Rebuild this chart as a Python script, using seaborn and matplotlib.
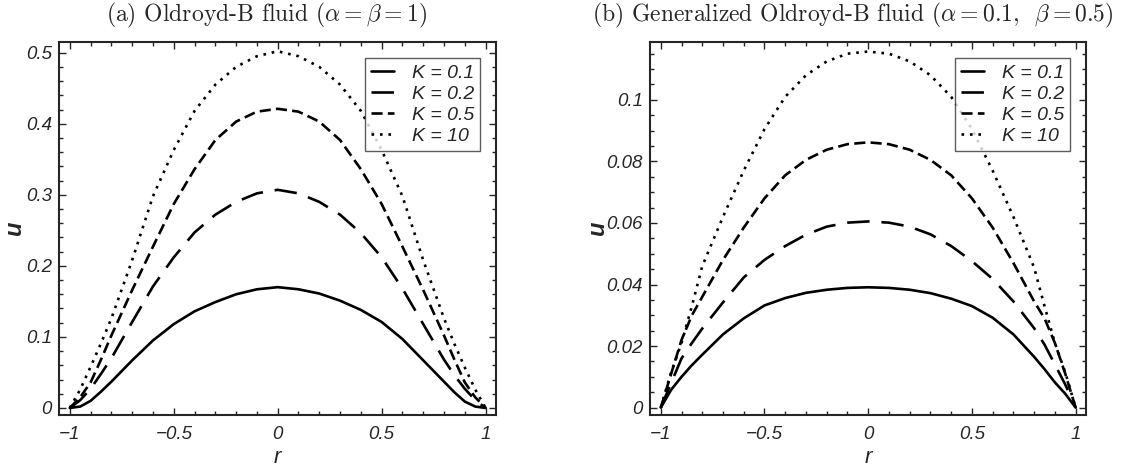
import numpy as np
import pandas as pd
import matplotlib
matplotlib.use('Agg')
import matplotlib.pyplot as plt
import seaborn as sns
from matplotlib.ticker import MultipleLocator, FixedLocator

# datos
r = [-1.0, -0.95, -0.9, -0.85, -0.8, -0.7, -0.6, -0.5, -0.4, -0.3, -0.2, -0.1, 0.0,
     0.1, 0.2, 0.3, 0.4, 0.5, 0.6, 0.7, 0.8, 0.85, 0.9, 0.95, 1.0]

k_labels = ['K = 0.1', 'K = 0.2', 'K = 0.5', 'K = 10']

# (a) Oldroyd-B
u_a_k01 = [0, 0.002, 0.010, 0.023, 0.037, 0.067, 0.095, 0.118, 0.136, 0.149, 0.160, 0.167, 0.170,
           0.167, 0.161, 0.151, 0.138, 0.121, 0.097, 0.067, 0.037, 0.022, 0.009, 0.002, 0]
u_a_k02 = [0, 0.011, 0.027, 0.048, 0.070, 0.121, 0.171, 0.212, 0.247, 0.272, 0.290, 0.302, 0.307,
           0.302, 0.290, 0.272, 0.246, 0.212, 0.168, 0.118, 0.068, 0.046, 0.027, 0.011, 0]
u_a_k05 = [0, 0.015, 0.036, 0.068, 0.102, 0.166, 0.227, 0.287, 0.336, 0.377, 0.403, 0.417, 0.421,
           0.417, 0.403, 0.377, 0.336, 0.287, 0.227, 0.166, 0.102, 0.068, 0.036, 0.015, 0]
u_a_k10 = [0, 0.026, 0.058, 0.091, 0.126, 0.208, 0.298, 0.363, 0.418, 0.455, 0.480, 0.495, 0.502,
           0.495, 0.480, 0.455, 0.418, 0.363, 0.298, 0.208, 0.126, 0.090, 0.057, 0.026, 0]

# (b) Generalized Oldroyd-B
u_b_k01 = [0, 0.0058, 0.0100, 0.0138, 0.0172, 0.0238, 0.0290, 0.0332, 0.0356, 0.0373, 0.0383, 0.0389, 0.0391,
           0.0389, 0.0383, 0.0372, 0.0354, 0.0330, 0.0292, 0.0238, 0.0165, 0.0125, 0.0082, 0.0045, 0]
u_b_k02 = [0, 0.0080, 0.0160, 0.0210, 0.0257, 0.0342, 0.0423, 0.0480, 0.0525, 0.0562, 0.0588, 0.0601, 0.0605,
           0.0601, 0.0588, 0.0563, 0.0525, 0.0476, 0.0418, 0.0345, 0.0258, 0.0205, 0.0140, 0.0075, 0]
u_b_k05 = [0, 0.011, 0.022, 0.030, 0.036, 0.048, 0.0585, 0.068, 0.0755, 0.0805, 0.0838, 0.0856, 0.0862,
           0.0856, 0.0838, 0.0805, 0.0755, 0.068, 0.0585, 0.047, 0.0345, 0.029, 0.021, 0.011, 0]
u_b_k10 = [0, 0.0115, 0.021, 0.033, 0.046, 0.062, 0.077, 0.0905, 0.101, 0.108, 0.1125, 0.115, 0.1157,
           0.115, 0.1125, 0.108, 0.101, 0.0905, 0.077, 0.062, 0.0455, 0.033, 0.021, 0.0115, 0]

x_ticks = [-1, -0.5, 0, 0.5, 1]
x_ticklabels = ['\u22121', '\u22120.5', '0', '0.5', '1']
ya_ticks = [0, 0.1, 0.2, 0.3, 0.4, 0.5]
ya_ticklabels = ['0', '0.1', '0.2', '0.3', '0.4', '0.5']
yb_ticks = [0, 0.02, 0.04, 0.06, 0.08, 0.1]
yb_ticklabels = ['0', '0.02', '0.04', '0.06', '0.08', '0.1']

sns.set_style('ticks')
plt.rcParams['font.family'] = ['Liberation Sans', 'DejaVu Sans']
plt.rcParams['mathtext.fontset'] = 'cm'

lw = 1.9
styles = ['-', (0, (8.5, 4.5)), (0, (4.2, 2.0)), (0, (1.0, 2.2))]

fig = plt.figure(figsize=(11.21, 4.72), dpi=100)
ax_a = fig.add_axes([59 / 1121, 57 / 472, 437 / 1121, 373 / 472])
ax_b = fig.add_axes([650 / 1121, 57 / 472, 436 / 1121, 373 / 472])

panels = [
    (ax_a, [u_a_k01, u_a_k02, u_a_k05, u_a_k10], (-0.0099, 0.515), ya_ticks, ya_ticklabels, 0.02, -0.076),
    (ax_b, [u_b_k01, u_b_k02, u_b_k05, u_b_k10], (-0.0024, 0.1188), yb_ticks, yb_ticklabels, 0.005, -0.095),
]

for ax, series, ylim, yt, ytl, yminor, ylab_x in panels:
    for vals, lab, ls in zip(series, k_labels, styles):
        df = pd.DataFrame({'r': r, 'u': vals})
        sns.lineplot(data=df, x='r', y='u', ax=ax, color='black', linewidth=lw,
                     linestyle=ls, label=lab)
    ax.set_xlim(-1.052, 1.05)
    ax.set_ylim(*ylim)
    ax.xaxis.set_major_locator(FixedLocator(x_ticks))
    ax.set_xticklabels(x_ticklabels)
    ax.xaxis.set_minor_locator(MultipleLocator(0.1))
    ax.yaxis.set_major_locator(FixedLocator(yt))
    ax.set_yticklabels(ytl)
    ax.yaxis.set_minor_locator(MultipleLocator(yminor))
    ax.tick_params(which='both', direction='in', top=True, right=True, width=1.0)
    ax.tick_params(which='major', length=5)
    ax.tick_params(which='minor', length=3)
    ax.tick_params(axis='x', which='major', pad=8, labelsize=13.5)
    ax.tick_params(axis='y', which='major', pad=5, labelsize=13.5)
    for t in ax.get_xticklabels() + ax.get_yticklabels():
        t.set_fontstyle('italic')
    for s in ax.spines.values():
        s.set_linewidth(1.5)
    ax.set_xlabel('r', fontsize=16, fontstyle='italic')
    ax.xaxis.set_label_coords(0.5, -0.085)
    ax.set_ylabel('u', fontsize=17, fontstyle='italic', fontweight='bold')
    ax.yaxis.set_label_coords(ylab_x, 0.5)
    leg = ax.legend(loc='upper right', bbox_to_anchor=(0.985, 0.982), fancybox=False,
                    handlelength=1.2, handletextpad=0.9, labelspacing=0.18, borderpad=0.3,
                    prop={'style': 'italic', 'size': 14})
    leg.get_frame().set_edgecolor('#333333')
    leg.get_frame().set_linewidth(1.0)

fig.text(266 / 1121, 1 - 15 / 472, r'(a) Oldroyd-B fluid ($\alpha=\beta=1$)',
         ha='center', va='center', fontsize=17, family='cmr10')
fig.text(853 / 1121, 1 - 15 / 472, r'(b) Generalized Oldroyd-B fluid ($\alpha=$0.1,  $\beta=$0.5)',
         ha='center', va='center', fontsize=17, family='cmr10')

fig.savefig('out.png', dpi=100)
